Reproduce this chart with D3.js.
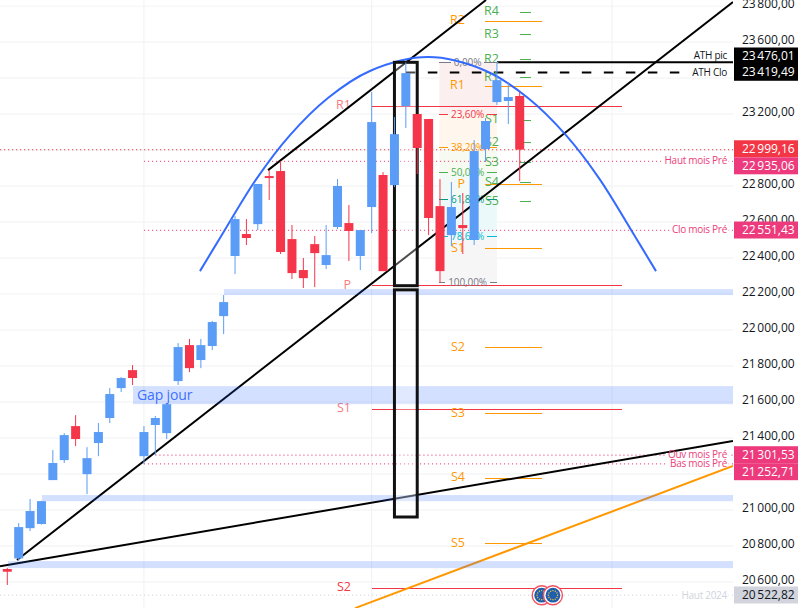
<!DOCTYPE html>
<html><head><meta charset="utf-8">
<script src="https://cdn.jsdelivr.net/npm/d3@7"></script>
<style>
html,body{margin:0;padding:0;background:#fff;overflow:hidden}
svg{display:block;font-family:"Open Sans",sans-serif}
</style></head><body><svg id="c" width="801" height="608"></svg>
<script>
// ---- candles ----
const highs =[20668,20916,21050,21040,21322,21416,21516,21338,21472,21666,21727,21794,21455,21511,21577,21916,21939,21939,22039,22183,22622,22605,22800,22877,22927,22572,22389,22511,22572,22827,22683,22544,23311,22866,23172,23476,23189,23161,22827,22811,22750,23044,23167,23476,23366,23311];
const opens =[20661,20720,20888,20911,21155,21266,21455,21188,21361,21500,21666,21766,21288,21461,21416,21705,21905,21822,21900,22066,22400,22522,22577,22844,22872,22494,22322,22466,22350,22561,22583,22400,22672,22850,22794,23233,23189,23161,22677,22516,22572,22489,22994,23255,23261,23289];
const closes=[20646,20894,20983,21038,21250,21405,21383,21277,21422,21633,21722,21722,21422,21500,21577,21894,21777,21905,22033,22144,22605,22500,22800,22833,22422,22305,22277,22416,22405,22789,22539,22544,23144,22316,23077,23416,23000,22611,22316,22672,22555,22983,23150,23377,23283,22991];
const lows  =[20572,20707,20872,20908,21155,21250,21344,21077,21288,21472,21644,21683,21244,21294,21383,21683,21755,21777,21877,21966,22300,22461,22544,22711,22411,22272,22222,22227,22327,22550,22372,22322,22527,22316,22783,23111,22855,22516,22250,22455,22411,22461,22922,23239,23133,22816];
// ---- axis ----
const priceTicks=[20600,20800,21000,21200,21400,21600,21800,22000,22200,22400,22600,22800,23000,23200,23400,23600,23800];
const tickLabels=["20\u202f600,00","20\u202f800,00","21\u202f000,00","","21\u202f400,00","21\u202f600,00","21\u202f800,00","22\u202f000,00","22\u202f200,00","22\u202f400,00","22\u202f600,00","22\u202f800,00","","23\u202f200,00","","23\u202f600,00","23\u202f800,00"];
const monthBars=[12,32,53.1];
// ---- key levels ----
const levelNames =["ATH pic","ATH Clo","","Haut mois Pré","Clo mois Pré","Ouv mois Pré","Bas mois Pré","Haut 2024"];
const levelValues=[23476.01,23419.49,22999.16,22935.06,22551.43,21301.53,21252.71,20522.82];
const levelStarts=[43,35,-1,12,12,13,12,-1];
const levelTexts =["23\u202f476,01","23\u202f419,49","22\u202f999,16","22\u202f935,06","22\u202f551,43","21\u202f301,53","21\u202f252,71","20\u202f522,82"];
// ---- zones ----
const zoneStart=[19.03,11.04,3.05,0.06];
const zoneTop  =[22216,21677,21072,20705];
const zoneBot  =[22183,21577,21038,20666];
// ---- pivots ----
const pivRedNames=["R1","P","S1","S2"];
const pivRedVals =[23233,22235,21548,20555];
const pivOrNames =["R2","R1","P","S1","S2","S3","S4","S5"];
const pivOrVals  =[23705,23344,22798,22439,21889,21525,21166,20802];
const pivGrNames =["R4","R3","R2","R1","S1","S2","S3","S4","S5"];
const pivGrVals  =[23755,23628,23493,23389,23155,23028,22918,22809,22704];
// ---- fibonacci ----
const fibNames=["0,00%","23,60%","38,20%","50,00%","61,80%","78,60%","100,00%"];
const fibVals =[23476,23186,23002,22862,22716,22511,22255];
// ---- drawings (bar index, price) ----
const trendA=[[0.85,20711],[63.73,23811]];
const trendB=[[22.9,22877],[42.04,23822]];
const trendC=[[-0.64,20677],[63.73,21372]];
const trendD=[[30.54,20444],[63.73,21233]];
const arcBars=[16.92,18.68,21.93,24.83,28.16,31.85,36.95,42.04,45.73,49.06,51.96,55.21,56.97];
const arcVals=[22316,22500,22833,23072,23278,23428,23505,23428,23278,23072,22833,22500,22316];
const boxBars=[34,36];
const boxUpper=[23476,22235];
const boxLower=[22212,20950];
const euBars=[46.93,47.92];

const W=733,H=608;
const svg=d3.select("#c");
const x=d3.scaleLinear().domain([0,45]).range([7.3,519.7]);
const y=d3.scaleLinear().domain([20600,23800]).range([580,4]);      // marks
const yAxis=d3.scaleLinear().domain([20600,23600]).range([581.3,41.7]); // axis, grid, monthly levels
const xEnd=x.invert(W);
svg.append("defs").append("clipPath").attr("id","pane").append("rect").attr("width",W).attr("height",H);

// grid
const grid=svg.append("g").call(d3.axisRight(yAxis).tickValues(priceTicks).tickSize(W).tickFormat(""));
grid.select(".domain").remove();
grid.selectAll("line").attr("stroke","#f3f4f6").attr("stroke-width",1.2);
svg.append("g").selectAll("line").data(monthBars).join("line")
 .attr("x1",d=>x(d)).attr("x2",d=>x(d)).attr("y1",0).attr("y2",H).attr("stroke","#f0f1f3");

const pane=svg.append("g").attr("clip-path","url(#pane)");

// fib fills
const fibFills=["#fcefef","#fff7ed","#f6faf1","#f3faf5","#ecf9fb","#f6f6f6"];
const fibColors=["#787b86","#f23645","#ff9800","#4caf50","#089981","#00bcd4","#787b86"];
const fibL=37.94,fibR=43;
pane.append("g").selectAll("rect").data(d3.pairs(fibVals)).join("rect")
 .attr("x",x(fibL)).attr("width",x(fibR)-x(fibL))
 .attr("y",d=>y(d[0])).attr("height",d=>y(d[1])-y(d[0]))
 .attr("fill",(d,i)=>fibFills[i]);

// dotted levels
const dotColor=[null,null,"#f23645","#ec407a","#ec407a","#ec407a","#ec407a","#d1d4dc"];
levelValues.forEach((v,i)=>{
  if(i<2) return;
  pane.append("line").attr("x1",levelStarts[i]<0?0:x(levelStarts[i])).attr("x2",W)
   .attr("y1",yAxis(v)).attr("y2",yAxis(v)).attr("stroke",dotColor[i]).attr("stroke-width",1).attr("stroke-dasharray","1.2 2.8");
});
// ATH lines
pane.append("line").attr("x1",x(levelStarts[0])).attr("x2",W).attr("y1",y(levelValues[0])).attr("y2",y(levelValues[0])).attr("stroke","#000").attr("stroke-width",2);
pane.append("line").attr("x1",x(levelStarts[1])).attr("x2",W).attr("y1",y(levelValues[1])).attr("y2",y(levelValues[1])).attr("stroke","#000").attr("stroke-width",2).attr("stroke-dasharray","9.5 12.5");

// red pivots
const gP=pane.append("g");
const lab={"font-size":12.5,"text-anchor":"end","dy":"0.35em"};
function pivot(vals,names,x0,x1,lx,off,colorLine,colorText){
  vals.forEach((v,i)=>{
    gP.append("line").attr("x1",x(x0)).attr("x2",x(x1)).attr("y1",y(v)).attr("y2",y(v))
      .attr("stroke",colorLine).attr("shape-rendering","crispEdges");
    const t=gP.append("text").attr("x",x(lx)).attr("y",y(v)+off).attr("fill",typeof colorText==="function"?colorText(i):colorText).text(names[i]);
    Object.entries(lab).forEach(([k,val])=>t.attr(k,val));
  });
}
pivot(pivRedVals,pivRedNames,32.03,54,30.18,-1.5,"#f23645",i=>i==3?"#f23645":"#f77c80");
pivot(pivOrVals,pivOrNames,41.95,46.95,40.19,-1,"#ff9800","#ff9800");
pivot(pivGrVals,pivGrNames,45,46,43.18,-1,"#4caf50","#4caf50");
// fib levels
const fibMid=(x(fibL)+x(fibR))/2-0.5;
fibVals.forEach((v,i)=>{
  const t=gP.append("text").attr("x",fibMid).attr("y",y(v)).attr("dy","0.35em").attr("text-anchor","middle")
    .attr("font-size",10).attr("letter-spacing",-.1).attr("fill",fibColors[i]).text(fibNames[i]);
  const w=t.node().getComputedTextLength()/2+3;
  gP.append("line").attr("x1",x(fibL)).attr("x2",fibMid-w).attr("y1",y(v)).attr("y2",y(v)).attr("stroke",fibColors[i]).attr("shape-rendering","crispEdges");
  gP.append("line").attr("x1",fibMid+w).attr("x2",x(fibR)).attr("y1",y(v)).attr("y2",y(v)).attr("stroke",fibColors[i]).attr("shape-rendering","crispEdges");
});

// trend lines
const line=d3.line().x(d=>x(d[0])).y(d=>y(d[1]));
[trendA,trendB,trendC].forEach(t=>pane.append("path").attr("d",line(t)).attr("stroke","#000").attr("stroke-width",2).attr("fill","none"));
pane.append("path").attr("d",line(trendD)).attr("stroke","#ff9800").attr("stroke-width",2).attr("fill","none");
// arc
pane.append("path").attr("d",d3.line().x(d=>x(d[0])).y(d=>y(d[1])).curve(d3.curveCatmullRom)(arcBars.map((b,i)=>[b,arcVals[i]])))
 .attr("stroke","#2962ff").attr("stroke-opacity",.95).attr("stroke-width",2).attr("fill","none");

// zones
pane.append("g").selectAll("rect").data(zoneStart).join("rect")
 .attr("x",d=>x(d)).attr("width",d=>x(xEnd)-x(d))
 .attr("y",(d,i)=>y(zoneTop[i])).attr("height",(d,i)=>y(zoneBot[i])-y(zoneTop[i]))
 .attr("fill","#2962ff").attr("fill-opacity",.2);
pane.append("text").attr("x",x(zoneStart[1])+4).attr("y",y((zoneTop[1]+zoneBot[1])/2)).attr("dy","0.35em")
 .attr("font-size",14).attr("letter-spacing",-.15).attr("fill","#2962ff").attr("fill-opacity",.9).text("Gap jour");

// tall boxes
[boxUpper,boxLower].forEach(b=>{
  pane.append("rect").attr("x",x(boxBars[0])).attr("width",x(boxBars[1])-x(boxBars[0]))
   .attr("y",y(b[0])).attr("height",y(b[1])-y(b[0]))
   .attr("fill","#fff").attr("fill-opacity",.3).attr("stroke","#111").attr("stroke-width",3);
});

// candles
const blue="#5b9cf6",red="#f5364a";
const idx=d3.range(highs.length);
const col=i=>closes[i]>=opens[i]?blue:red;
const gC=pane.append("g");
gC.selectAll("line").data(idx).join("line")
 .attr("x1",i=>x(i)).attr("x2",i=>x(i)).attr("y1",i=>y(highs[i])).attr("y2",i=>y(lows[i])).attr("stroke",col);
gC.selectAll("rect").data(idx).join("rect")
 .attr("x",i=>x(i)-4.5).attr("width",9)
 .attr("y",i=>y(Math.max(opens[i],closes[i])))
 .attr("height",i=>Math.max(1,Math.abs(y(opens[i])-y(closes[i]))))
 .attr("fill",col);

// EU event icons
euBars.forEach(b=>{
  const g=pane.append("g").attr("transform",`translate(${x(b)},${yAxis(levelValues[7])})`);
  g.append("circle").attr("r",9.5).attr("fill","#fff").attr("stroke","#f0505f").attr("stroke-width",1.4);
  g.append("circle").attr("r",7.4).attr("fill","#1f5fae");
  d3.range(12).forEach(k=>{
    const a=k/12*2*Math.PI;
    g.append("circle").attr("cx",4.6*Math.cos(a)).attr("cy",4.6*Math.sin(a)).attr("r",.7).attr("fill","#f4c93a");
  });
});

// right-hand level names (white backing breaks the line)
const nameY=[-9,-1.2,0,-.9,-.6,-.4,-.2,.4];
const nameColor=["#131722","#131722","","#ec407a","#ec407a","#ec407a","#ec407a","#d1d4dc"];
levelNames.forEach((n,i)=>{
  if(!n) return;
  const g=svg.append("g");
  const t=g.append("text").attr("x",727).attr("y",yAxis(levelValues[i])+nameY[i]).attr("dy","0.35em")
    .attr("text-anchor","end").attr("font-size",10).attr("letter-spacing",-.28).attr("fill",nameColor[i]).text(n);
  if(i==0) return;
  const bb=t.node().getBBox();
  const ly=i==1?y(levelValues[i]):yAxis(levelValues[i]);
  g.insert("rect","text").attr("x",bb.x-2).attr("y",ly-2).attr("width",bb.width+3).attr("height",4).attr("fill","#fff");
});

// price axis
const ax=svg.append("g").attr("transform",`translate(${W},0)`)
 .call(d3.axisRight(yAxis).tickValues(priceTicks).tickSize(0).tickPadding(9).tickFormat((d,i)=>tickLabels[i]));
ax.select(".domain").remove();
ax.selectAll("text").attr("font-size",12).attr("letter-spacing",-.25).attr("font-family",'"Open Sans",sans-serif').attr("fill","#131722")
  .attr("transform","translate(0,-1.6)");

// price tags
const tagFill=["#000","#000","#f23645","#ec3a7c","#ec3a7c","#ec3a7c","#ec3a7c","#d1d4dc"];
const tagFg=["#fff","#fff","#fff","#fff","#fff","#fff","#fff","#131722"];
const tagNudge=[-8,-1.9,-1,4.5,-.3,-.4,7.8,-.2];
levelValues.forEach((v,i)=>{
  const cy=yAxis(v)+tagNudge[i];
  svg.append("rect").attr("x",734).attr("y",cy-8.5).attr("width",64).attr("height",17).attr("fill",tagFill[i]);
  svg.append("text").attr("x",742).attr("y",cy).attr("dy","0.35em").attr("font-size",12).attr("font-weight",500)
    .attr("letter-spacing",-.3).attr("fill",tagFg[i]).text(levelTexts[i]);
});
</script></body></html>
